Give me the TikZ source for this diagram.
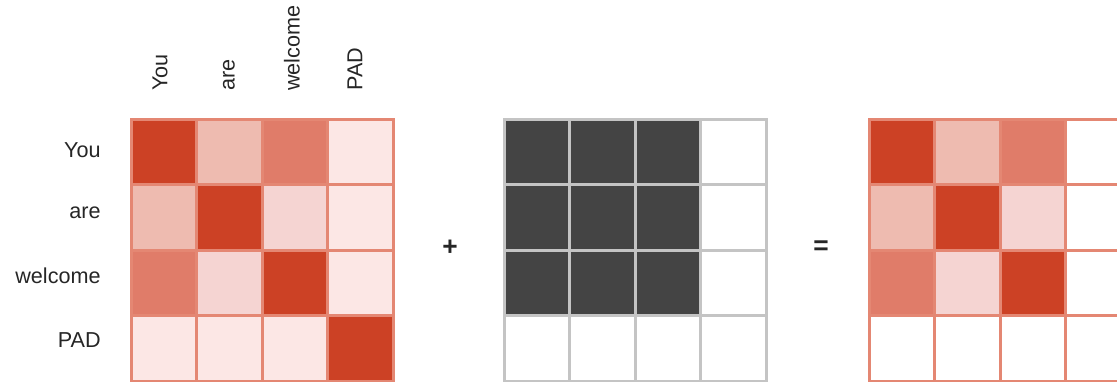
\documentclass[tikz,border=0pt]{standalone}
\usepackage{fontspec}
\setmainfont{Liberation Sans}
\usetikzlibrary{
    positioning, % For relative placement
}

\definecolor{attdark}{HTML}{CC4125}
\definecolor{attmid}{HTML}{E07C69}
\definecolor{attlight}{HTML}{EEBBB0}
\definecolor{attpink}{HTML}{F5D4D2}
\definecolor{attpale}{HTML}{FCE7E5}
\definecolor{attline}{HTML}{E48773}
\definecolor{maskline}{HTML}{C4C4C4}
\definecolor{maskdark}{HTML}{444444}
\definecolor{labeltext}{HTML}{262626}

\begin{document}
\begin{tikzpicture}[
    x=0.02cm, y=-0.02cm, % one unit = one pixel, y pointing down
    attcell/.style={draw=attline, line width=0.06cm}, % Cells of the score grids
    maskcell/.style={draw=maskline, line width=0.06cm}, % Cells of the mask grid
    wordlabel/.style={font=\fontsize{12.3}{14}\selectfont, text=labeltext, inner sep=0pt}, % Token labels
    opsign/.style={font=\fontsize{15}{18}\selectfont\bfseries, text=labeltext}, % + and =
]

    \useasboundingbox (0,0) rectangle (1117,382);

    % Grid geometry
    \def\pitch{65.4}
    \def\gridtop{119.5}
    \def\leftx{131.5}
    \def\maskx{504.5}
    \def\rightx{869.5}

    % Attention scores (left)
    \foreach [count=\i] \row in {{attdark,attlight,attmid,attpale},{attlight,attdark,attpink,attpale},{attmid,attpink,attdark,attpale},{attpale,attpale,attpale,attdark}} {
        \foreach [count=\j] \col in \row {
            \draw[attcell, fill=\col] ({\leftx+(\j-1)*\pitch},{\gridtop+(\i-1)*\pitch}) rectangle +(\pitch,\pitch);
        }
    }

    % Mask (middle)
    \foreach [count=\i] \row in {{maskdark,maskdark,maskdark,white},{maskdark,maskdark,maskdark,white},{maskdark,maskdark,maskdark,white},{white,white,white,white}} {
        \foreach [count=\j] \col in \row {
            \draw[maskcell, fill=\col] ({\maskx+(\j-1)*\pitch},{\gridtop+(\i-1)*\pitch}) rectangle +(\pitch,\pitch);
        }
    }

    % Masked scores (right)
    \foreach [count=\i] \row in {{attdark,attlight,attmid,white},{attlight,attdark,attpink,white},{attmid,attpink,attdark,white},{white,white,white,white}} {
        \foreach [count=\j] \col in \row {
            \draw[attcell, fill=\col] ({\rightx+(\j-1)*\pitch},{\gridtop+(\i-1)*\pitch}) rectangle +(\pitch,\pitch);
        }
    }

    % Row labels
    \foreach \word/\name/\ypos in {You/rowYou/150, are/rowAre/213, welcome/rowWelcome/276, PAD/rowPad/340} {
        \node[wordlabel, anchor=east] (\name) at (101,\ypos) {\word};
    }

    % Column labels
    \foreach \word/\name/\xpos in {You/colYou/160, are/colAre/229, welcome/colWelcome/292, PAD/colPad/355} {
        \node[wordlabel, rotate=90, anchor=west] (\name) at (\xpos,91) {\word};
    }

    % Operators
    \node[opsign] (plus) at (450,248) {+};
    \node[opsign] (equals) at (821,248) {=};

\end{tikzpicture}
\end{document}
